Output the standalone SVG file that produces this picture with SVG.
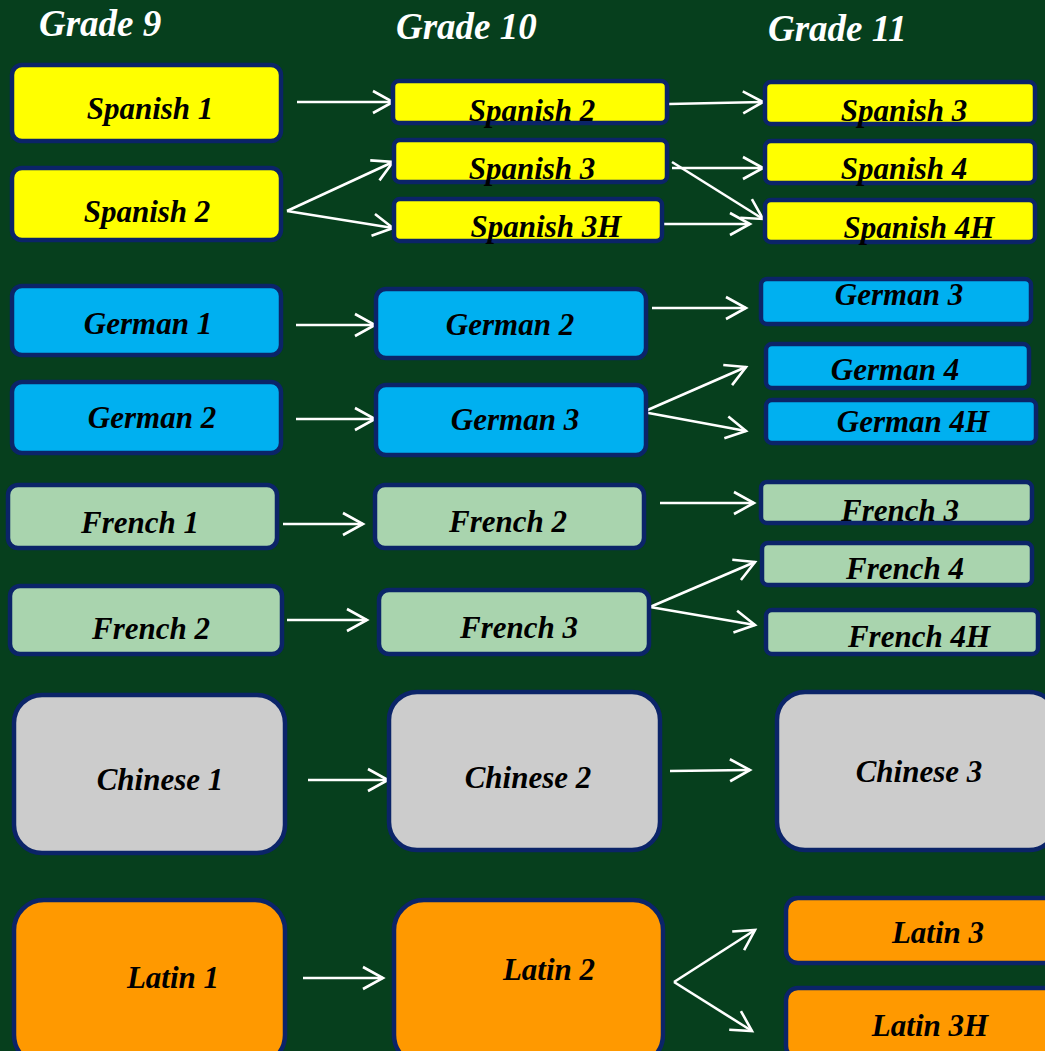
<svg xmlns="http://www.w3.org/2000/svg" width="1045" height="1051" viewBox="0 0 1045 1051">
<defs>
<marker id="ah" markerUnits="userSpaceOnUse" markerWidth="26" markerHeight="26" viewBox="0 0 26 26" refX="22" refY="13" orient="auto">
<path d="M2,2 L22,13 L2,24" fill="none" stroke="#ffffff" stroke-width="2.6" stroke-linejoin="miter"/>
</marker>
</defs>
<style>
.bg{fill:#063f1d}
.n{stroke:#0b2468;stroke-width:4.5}
.y{fill:#ffff00}
.b{fill:#00b0f0}
.g{fill:#a9d4ae}
.c{fill:#cccccc}
.o{fill:#ff9900}
.t{font-family:"Liberation Serif","Times New Roman",serif;font-weight:bold;font-style:italic;font-size:31px;fill:#000;text-anchor:middle}
.h{font-family:"Liberation Serif","Times New Roman",serif;font-weight:bold;font-style:italic;font-size:37px;fill:#ffffff}
.e{stroke:#ffffff;stroke-width:2.6;fill:none;marker-end:url(#ah)}
</style>
<rect class="bg" x="0" y="0" width="1045" height="1051"/>
<g id="headers">
<text class="h" x="39" y="36">Grade 9</text>
<text class="h" x="396" y="39">Grade 10</text>
<text class="h" x="768" y="41">Grade 11</text>
</g>
<g id="connectors">
<line class="e" x1="297" y1="102" x2="393" y2="102"/>
<line class="e" x1="287" y1="211" x2="393" y2="162"/>
<line class="e" x1="287" y1="211" x2="393" y2="228"/>
<line class="e" x1="669" y1="104" x2="763" y2="102"/>
<line class="e" x1="672" y1="168" x2="763" y2="168"/>
<line class="e" x1="672" y1="162" x2="763" y2="219"/>
<line class="e" x1="660" y1="224" x2="750" y2="224"/>
<line class="e" x1="296" y1="325" x2="375" y2="325"/>
<line class="e" x1="296" y1="419" x2="375" y2="419"/>
<line class="e" x1="652" y1="308" x2="746" y2="308"/>
<line class="e" x1="643" y1="412" x2="746" y2="367"/>
<line class="e" x1="643" y1="412" x2="746" y2="431"/>
<line class="e" x1="283" y1="524" x2="363" y2="524"/>
<line class="e" x1="287" y1="620" x2="367" y2="620"/>
<line class="e" x1="660" y1="503" x2="754" y2="503"/>
<line class="e" x1="650" y1="607" x2="755" y2="562"/>
<line class="e" x1="650" y1="607" x2="755" y2="625"/>
<line class="e" x1="308" y1="780" x2="388" y2="780"/>
<line class="e" x1="670" y1="771" x2="750" y2="770"/>
<line class="e" x1="303" y1="978" x2="383" y2="978"/>
<line class="e" x1="674" y1="982" x2="755" y2="930"/>
<line class="e" x1="674" y1="982" x2="752" y2="1031"/>
</g>
<g id="spanish1"><rect class="n y" x="12" y="65" width="269" height="76" rx="10"/><text class="t" x="150" y="119">Spanish 1</text></g>
<g id="spanish2_g9"><rect class="n y" x="12" y="168" width="269" height="72" rx="10"/><text class="t" x="147" y="222">Spanish 2</text></g>
<g id="spanish2_g10"><rect class="n y" x="393" y="81" width="274" height="42" rx="6"/><text class="t" x="532" y="121">Spanish 2</text></g>
<g id="spanish3_g10"><rect class="n y" x="394" y="140" width="273" height="42" rx="6"/><text class="t" x="532" y="179">Spanish 3</text></g>
<g id="spanish3h_g10"><rect class="n y" x="394" y="199" width="268" height="42" rx="6"/><text class="t" x="546" y="237">Spanish 3H</text></g>
<g id="spanish3_g11"><rect class="n y" x="765" y="82" width="270" height="42" rx="6"/><text class="t" x="904" y="121">Spanish 3</text></g>
<g id="spanish4"><rect class="n y" x="765" y="141" width="270" height="42" rx="6"/><text class="t" x="904" y="179">Spanish 4</text></g>
<g id="spanish4h"><rect class="n y" x="765" y="200" width="270" height="42" rx="6"/><text class="t" x="919" y="238">Spanish 4H</text></g>
<g id="german1"><rect class="n b" x="12" y="286" width="269" height="69" rx="10"/><text class="t" x="148" y="334">German 1</text></g>
<g id="german2_g9"><rect class="n b" x="12" y="382" width="269" height="71" rx="10"/><text class="t" x="152" y="428">German 2</text></g>
<g id="german2_g10"><rect class="n b" x="376" y="289" width="270" height="69" rx="10"/><text class="t" x="510" y="335">German 2</text></g>
<g id="german3_g10"><rect class="n b" x="376" y="385" width="270" height="70" rx="10"/><text class="t" x="515" y="430">German 3</text></g>
<g id="german3_g11"><rect class="n b" x="761" y="279" width="270" height="45" rx="6"/><text class="t" x="899" y="305">German 3</text></g>
<g id="german4"><rect class="n b" x="766" y="344" width="263" height="44" rx="6"/><text class="t" x="895" y="380">German 4</text></g>
<g id="german4h"><rect class="n b" x="766" y="400" width="270" height="43" rx="6"/><text class="t" x="913" y="432">German 4H</text></g>
<g id="french1"><rect class="n g" x="8" y="485" width="269" height="63" rx="10"/><text class="t" x="140" y="533">French 1</text></g>
<g id="french2_g9"><rect class="n g" x="10" y="586" width="272" height="68" rx="10"/><text class="t" x="151" y="639">French 2</text></g>
<g id="french2_g10"><rect class="n g" x="375" y="485" width="269" height="63" rx="10"/><text class="t" x="508" y="532">French 2</text></g>
<g id="french3_g10"><rect class="n g" x="379" y="590" width="270" height="64" rx="10"/><text class="t" x="519" y="638">French 3</text></g>
<g id="french3_g11"><rect class="n g" x="761" y="482" width="271" height="41" rx="6"/><text class="t" x="900" y="521">French 3</text></g>
<g id="french4"><rect class="n g" x="762" y="543" width="270" height="42" rx="6"/><text class="t" x="905" y="579">French 4</text></g>
<g id="french4h"><rect class="n g" x="766" y="610" width="272" height="44" rx="6"/><text class="t" x="919" y="647">French 4H</text></g>
<g id="chinese1"><rect class="n c" x="14" y="695" width="271" height="158" rx="28"/><text class="t" x="160" y="790">Chinese 1</text></g>
<g id="chinese2"><rect class="n c" x="389" y="692" width="271" height="158" rx="28"/><text class="t" x="528" y="788">Chinese 2</text></g>
<g id="chinese3"><rect class="n c" x="777" y="692" width="280" height="158" rx="28"/><text class="t" x="919" y="782">Chinese 3</text></g>
<g id="latin1"><rect class="n o" x="14" y="900" width="271" height="165" rx="30"/><text class="t" x="173" y="988">Latin 1</text></g>
<g id="latin2"><rect class="n o" x="394" y="900" width="269" height="165" rx="30"/><text class="t" x="549" y="980">Latin 2</text></g>
<g id="latin3"><rect class="n o" x="786" y="898" width="270" height="65" rx="12"/><text class="t" x="938" y="943">Latin 3</text></g>
<g id="latin3h"><rect class="n o" x="786" y="988" width="270" height="70" rx="12"/><text class="t" x="930" y="1036">Latin 3H</text></g>
</svg>
